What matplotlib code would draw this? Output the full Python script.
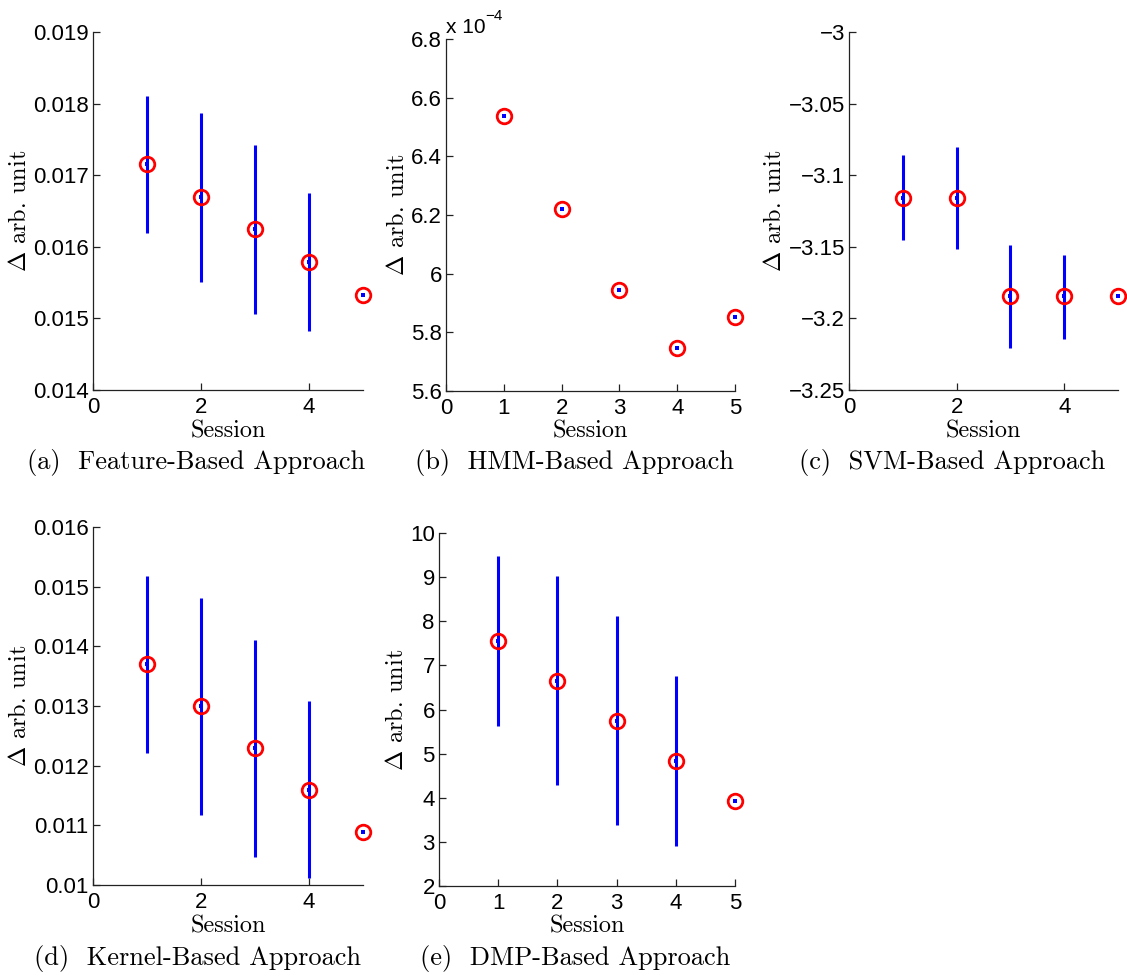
import matplotlib
matplotlib.use('Agg')
import matplotlib.pyplot as plt
from matplotlib.ticker import FuncFormatter
import numpy as np

plt.rcParams['font.family'] = ['Liberation Sans', 'DejaVu Sans']
plt.rcParams['mathtext.fontset'] = 'cm'

W, H = 1127, 977

sessions = [1, 2, 3, 4, 5]

# (a) feature-based
feat_mean = [0.01715, 0.01669, 0.01625, 0.01579, 0.01533]
feat_lo = [0.01619, 0.01551, 0.01506, 0.01482, 0.01533]
feat_hi = [0.01811, 0.01787, 0.01742, 0.01675, 0.01533]

# (b) HMM-based (no spread)
hmm_mean = [6.538e-4, 6.222e-4, 5.946e-4, 5.748e-4, 5.851e-4]
hmm_lo = hmm_mean
hmm_hi = hmm_mean

# (c) SVM-based
svm_mean = [-3.116, -3.116, -3.1845, -3.1845, -3.1845]
svm_lo = [-3.1452, -3.1517, -3.2209, -3.2142, -3.1845]
svm_hi = [-3.0862, -3.0800, -3.1487, -3.1557, -3.1845]

# (d) kernel-based
kern_mean = [0.013696, 0.012992, 0.012293, 0.011594, 0.010895]
kern_lo = [0.01222, 0.011174, 0.010475, 0.010112, 0.010895]
kern_hi = [0.015172, 0.01481, 0.01411, 0.013076, 0.010895]

# (e) DMP-based
dmp_mean = [7.563, 6.655, 5.746, 4.831, 3.922]
dmp_lo = [5.633, 4.286, 3.378, 2.908, 3.922]
dmp_hi = [9.485, 9.016, 8.108, 6.761, 3.922]

# box = (left, top, right, bottom) in px; ylx = ylabel centre x, xly = xlabel centre y
panels = [
    dict(mean=feat_mean, lo=feat_lo, hi=feat_hi, ylim=(0.014, 0.019), ystep=0.001,
         xticks=[0, 2, 4], box=(93, 32, 363, 390), ylx=20, xly=431,
         cap='(a)  Feature-Based Approach', capx=196, capy=463),
    dict(mean=hmm_mean, lo=hmm_lo, hi=hmm_hi, ylim=(5.6e-4, 6.8e-4), ystep=0.2e-4, scale=1e-4,
         xticks=[0, 1, 2, 3, 4, 5], box=(446, 39, 735, 391), ylx=398, xly=431,
         cap='(b)  HMM-Based Approach', capx=574, capy=463),
    dict(mean=svm_mean, lo=svm_lo, hi=svm_hi, ylim=(-3.25, -3.0), ystep=0.05,
         xticks=[0, 2, 4], box=(849, 32, 1118, 390), ylx=775, xly=431,
         cap='(c)  SVM-Based Approach', capx=952, capy=463),
    dict(mean=kern_mean, lo=kern_lo, hi=kern_hi, ylim=(0.010, 0.016), ystep=0.001,
         xticks=[0, 2, 4], box=(93, 527, 363, 885), ylx=20, xly=926,
         cap='(d)  Kernel-Based Approach', capx=197, capy=958),
    dict(mean=dmp_mean, lo=dmp_lo, hi=dmp_hi, ylim=(2, 10), ystep=1,
         xticks=[0, 1, 2, 3, 4, 5], box=(439, 533, 735, 886), ylx=397, xly=926,
         cap='(e)  DMP-Based Approach', capx=575, capy=958),
]

fig = plt.figure(figsize=(W / 100, H / 100), dpi=100)

def fmt_factory(scale):
    def f(v, _):
        s = f'{round(v / scale, 6):g}'
        return s.replace('-', '\u2212')
    return f

for p in panels:
    l, t, r, b = p['box']
    ax = fig.add_axes([l / W, 1 - b / H, (r - l) / W, (b - t) / H])
    x = np.array(sessions)
    m = np.array(p['mean'])
    lo = np.array(p['lo'])
    hi = np.array(p['hi'])
    ax.errorbar(x, m, yerr=[m - lo, hi - m], fmt='s', color='b', ms=2.3, mew=0,
                elinewidth=2.2, capsize=3.2, capthick=2.2, clip_on=False, zorder=2)
    ax.plot(x, m, 'o', mfc='none', mec='r', ms=10.5, mew=2.0, clip_on=False, zorder=3)

    ax.set_xlim(0, 5)
    ax.set_ylim(*p['ylim'])
    ax.set_xticks(p['xticks'])
    y0, y1 = p['ylim']
    n = int(round((y1 - y0) / p['ystep']))
    ax.set_yticks([y0 + i * p['ystep'] for i in range(n + 1)])
    ax.yaxis.set_major_formatter(FuncFormatter(fmt_factory(p.get('scale', 1))))
    ax.xaxis.set_major_formatter(FuncFormatter(fmt_factory(1)))

    for s in ['top', 'right']:
        ax.spines[s].set_visible(False)
    for s in ['left', 'bottom']:
        ax.spines[s].set_linewidth(0.9)
        ax.spines[s].set_color('#222222')
    ax.tick_params(direction='in', length=5, width=0.9, labelsize=16, colors='#222222',
                   labelcolor='black')
    ax.tick_params(axis='y', pad=3)
    ax.tick_params(axis='x', pad=5)

    ax.set_xlabel('Session', family='cmr10', fontsize=17.5)
    ax.set_ylabel(r'$\Delta$ arb. unit', family='cmr10', fontsize=17.5)
    ax.xaxis.set_label_coords(0.5, (b - p['xly']) / (b - t))
    ax.xaxis.label.set_va('center')
    ax.yaxis.set_label_coords((p['ylx'] - l) / (r - l), 0.5)
    ax.yaxis.label.set_va('center')

    if 'scale' in p:
        ax.text(0.0, 1 + 6 / (b - t), 'x 10', transform=ax.transAxes, ha='left',
                va='baseline', fontsize=15)
        ax.text(39 / (r - l), 1 + 19 / (b - t), '\u22124', transform=ax.transAxes,
                ha='left', va='baseline', fontsize=11)

    fig.text(p['capx'] / W, 1 - p['capy'] / H, p['cap'], family='cmr10', fontsize=19,
             ha='center', va='center')

fig.savefig('out.png', dpi=100)
